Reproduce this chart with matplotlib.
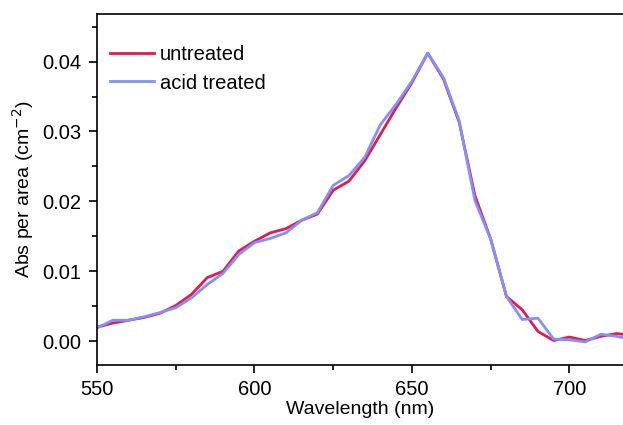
import matplotlib
matplotlib.use("Agg")
import matplotlib.pyplot as plt
from matplotlib.ticker import MultipleLocator, FormatStrFormatter

wavelength = list(range(550, 721, 5))
untreated = [0.0020, 0.0026, 0.0030, 0.0034, 0.0040, 0.0051, 0.0067, 0.0091, 0.0100, 0.0129,
             0.0143, 0.0155, 0.0161, 0.0173, 0.0182, 0.0216, 0.0229, 0.0258, 0.0296, 0.0334,
             0.0370, 0.0412, 0.0375, 0.0313, 0.0208, 0.0146, 0.0064, 0.0045, 0.0014, 0.0001,
             0.0006, 0.0001, 0.0007, 0.0011, 0.0008]
acid_treated = [0.0019, 0.0030, 0.0030, 0.0035, 0.0041, 0.0048, 0.0062, 0.0081, 0.0097, 0.0124,
                0.0141, 0.0147, 0.0155, 0.0173, 0.0184, 0.0223, 0.0237, 0.0263, 0.0310, 0.0339,
                0.0372, 0.0412, 0.0377, 0.0315, 0.0201, 0.0146, 0.0064, 0.0031, 0.0033, 0.0003,
                0.0002, -0.0001, 0.0010, 0.0007, 0.0002]

plt.rcParams['font.family'] = ['Liberation Sans', 'DejaVu Sans']

fig = plt.figure(figsize=(6.23, 4.25), dpi=100)
ax = fig.add_axes([97/623, 1 - 365/425, 1 - 97/623, (365 - 14)/425])

ax.plot(wavelength, untreated, color='#E3194F', lw=2.0, label='untreated')
ax.plot(wavelength, acid_treated, color='#8291FA', lw=2.0, label='acid treated')

ax.set_xlim(550, 717)
ax.set_ylim(-0.0034, 0.0468)
ax.xaxis.set_major_locator(MultipleLocator(50))
ax.xaxis.set_minor_locator(MultipleLocator(25))
ax.yaxis.set_major_locator(MultipleLocator(0.01))
ax.yaxis.set_minor_locator(MultipleLocator(0.005))
ax.yaxis.set_major_formatter(FormatStrFormatter('%.2f'))

ax.spines['right'].set_visible(False)
for s in ['left', 'bottom', 'top']:
    ax.spines[s].set_linewidth(1.2)
ax.tick_params(which='major', direction='out', length=6, width=1.2, labelsize=14.5,
               pad=5, top=False, right=False)
ax.tick_params(which='minor', direction='out', length=3.5, width=1.2, top=False, right=False)

ax.set_xlabel('Wavelength (nm)', fontsize=14, labelpad=1.5)
ax.set_ylabel('Abs per area (cm$^{-2}$)', fontsize=14, labelpad=5)

leg = ax.legend(loc='upper left', frameon=False, fontsize=14.5, handlelength=2.2,
                handletextpad=0.3, labelspacing=0.45, bbox_to_anchor=(-0.01, 0.962))

fig.savefig('out.png', dpi=100)
